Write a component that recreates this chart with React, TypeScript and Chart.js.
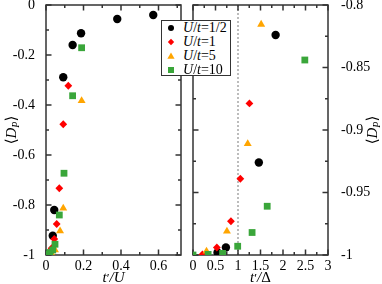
import React, { useEffect, useRef, useState } from 'react';
import { Chart, registerables } from 'chart.js';
Chart.register(...registerables);

const seriesNames = ['1/2', '1', '5', '10'];
const seriesColors = ['#000000', '#ff0000', '#ffa500', '#3aa63a'];
const seriesShapes = ['circle', 'rectRot', 'triangle', 'rect'];
const seriesRadii = [4.2, 3.9, 4.6, 4.8];

// Left panel: <D_P> versus t'/U
const leftHalfX = [0.572, 0.38, 0.187, 0.142, 0.092, 0.044, 0.036];
const leftHalfY = [-0.04, -0.056, -0.113, -0.16, -0.289, -0.82, -0.923];
const leftOneX = [0.119, 0.092, 0.071, 0.057, 0.044, 0.03, 0.015];
const leftOneY = [-0.323, -0.477, -0.733, -0.876, -0.936, -0.973, -0.995];
const leftFiveX = [0.19, 0.092, 0.075, 0.048, 0.03];
const leftFiveY = [-0.383, -0.813, -0.904, -0.98, -0.995];
const leftTenX = [0.19, 0.142, 0.096, 0.071, 0.048, 0.036, 0.021, 0.01, 0];
const leftTenY = [-0.171, -0.363, -0.673, -0.84, -0.957, -0.98, -0.99, -0.997, -1];

// Right panel: <D_P> versus t'/Delta
const rightHalfX = [1.836, 1.463, 0.731, 0.545];
const rightHalfY = [-0.824, -0.926, -0.994, -0.998];
const rightOneX = [1.254, 1.052, 0.843, 0.53, 0.209];
const rightOneY = [-0.8787, -0.939, -0.973, -0.994, -0.9995];
const rightFiveX = [1.515, 1.216, 0.754, 0.3];
const rightFiveY = [-0.8155, -0.911, -0.981, -0.997];
const rightTenX = [2.485, 1.649, 1.313, 0.993, 0.657, 0.336, 0];
const rightTenY = [-0.844, -0.961, -0.982, -0.993, -0.9987, -0.9995, -1];

// Ticks
const leftXTicks = [0, 0.2, 0.4, 0.6];
const leftXMinor = [0.1, 0.3, 0.5, 0.7];
const leftYTicks = [0, -0.2, -0.4, -0.6, -0.8, -1];
const leftYMinor = [-0.1, -0.3, -0.5, -0.7, -0.9];
const rightXTicks = [0, 0.5, 1, 1.5, 2, 2.5, 3];
const rightXMinor = [0.25, 0.75, 1.25, 1.75, 2.25, 2.75];
const rightYTicks = [-0.8, -0.85, -0.9, -0.95, -1];
const rightYMinor = [-0.825, -0.875, -0.925, -0.975];

const FONT = '"Liberation Serif", "DejaVu Serif", serif';
const AXIS_COLOR = '#333333';
const RIGHT_OFFSET = 184;

type PanelCfg = {
  xs: number[][];
  ys: number[][];
  xMin: number; xMax: number; yMin: number; yMax: number;
  xMajor: number[]; xMinor: number[]; yMajor: number[]; yMinor: number[];
  side: 'left' | 'right';
  padding: { left: number; top: number; right: number; bottom: number };
  yAxisWidth: number;
  xTitleVar: string;
  yTitleX: number;
  vline?: number;
};

function makePanel(canvas: HTMLCanvasElement, cfg: PanelCfg) {
  const datasets = cfg.xs.map((xArr, i) => ({
    label: 'U/t=' + seriesNames[i],
    data: xArr.map((x, j) => ({ x, y: cfg.ys[i][j] })),
    pointStyle: seriesShapes[i] as any,
    pointRadius: seriesRadii[i],
    pointBackgroundColor: seriesColors[i],
    pointBorderColor: seriesColors[i],
    pointBorderWidth: 0,
    showLine: false,
    order: 3 - i,
  }));

  const framePlugin = {
    id: 'frame' + cfg.side,
    beforeDatasetsDraw(chart: any) {
      const { ctx, chartArea: a, scales } = chart;
      const xs = scales.x, ys = scales.y;
      ctx.save();
      if (cfg.vline !== undefined) {
        const vx = xs.getPixelForValue(cfg.vline);
        ctx.strokeStyle = '#999999';
        ctx.lineWidth = 1.3;
        ctx.setLineDash([2, 2]);
        ctx.beginPath();
        ctx.moveTo(vx, a.top);
        ctx.lineTo(vx, a.bottom);
        ctx.stroke();
        ctx.setLineDash([]);
      }
      ctx.strokeStyle = AXIS_COLOR;
      ctx.lineWidth = 1.5;
      ctx.strokeRect(a.left, a.top, a.right - a.left, a.bottom - a.top);
      const tick = (vals: number[], len: number) => {
        ctx.beginPath();
        vals.forEach((v) => {
          const px = xs.getPixelForValue(v);
          ctx.moveTo(px, a.bottom); ctx.lineTo(px, a.bottom - len);
          ctx.moveTo(px, a.top); ctx.lineTo(px, a.top + len);
        });
        ctx.stroke();
      };
      const tickY = (vals: number[], len: number) => {
        ctx.beginPath();
        vals.forEach((v) => {
          const py = ys.getPixelForValue(v);
          ctx.moveTo(a.left, py); ctx.lineTo(a.left + len, py);
          ctx.moveTo(a.right, py); ctx.lineTo(a.right - len, py);
        });
        ctx.stroke();
      };
      tick(cfg.xMajor, 5.5); tick(cfg.xMinor, 3);
      tickY(cfg.yMajor, 5.5); tickY(cfg.yMinor, 3);
      ctx.restore();
    },
    afterDraw(chart: any) {
      const { ctx, chartArea: a } = chart;
      ctx.save();
      ctx.fillStyle = '#000';
      ctx.textAlign = 'left';
      ctx.textBaseline = 'alphabetic';
      const cx = (a.left + a.right) / 2;
      const parts = [
        { t: 't', f: 'italic 15px ' + FONT },
        { t: '′', f: '13px ' + FONT },
        { t: '/', f: 'italic 15px ' + FONT },
        { t: cfg.xTitleVar, f: (cfg.xTitleVar === 'U' ? 'italic ' : '') + '15px ' + FONT },
      ];
      let w = 0;
      parts.forEach((p) => { ctx.font = p.f; w += ctx.measureText(p.t).width; });
      let x = cx - w / 2;
      parts.forEach((p) => { ctx.font = p.f; ctx.fillText(p.t, x, 282); x += ctx.measureText(p.t).width; });
      ctx.translate(cfg.yTitleX, 130);
      ctx.rotate(-Math.PI / 2);
      const yp = [
        { t: '⟨', f: '15px ' + FONT, dy: 0 },
        { t: 'D', f: 'italic 15px ' + FONT, dy: 0 },
        { t: 'P', f: 'italic 10px ' + FONT, dy: 3 },
        { t: '⟩', f: '15px ' + FONT, dy: 0 },
      ];
      let yw = 0;
      yp.forEach((p) => { ctx.font = p.f; yw += ctx.measureText(p.t).width; });
      let yx = -yw / 2;
      yp.forEach((p) => { ctx.font = p.f; ctx.fillText(p.t, yx, 5 + p.dy); yx += ctx.measureText(p.t).width; });
      ctx.restore();
    },
  };

  const noPad = (s: any) => { s.paddingTop = 0; s.paddingBottom = 0; s.paddingLeft = 0; s.paddingRight = 0; };

  return new Chart(canvas, {
    type: 'scatter',
    data: { datasets },
    options: {
      animation: false,
      responsive: false,
      maintainAspectRatio: false,
      layout: { padding: cfg.padding },
      plugins: { legend: { display: false }, tooltip: { enabled: false } },
      scales: {
        x: {
          type: 'linear',
          min: cfg.xMin, max: cfg.xMax,
          grid: { display: false },
          border: { display: false },
          afterBuildTicks: (s: any) => { s.ticks = cfg.xMajor.map((v) => ({ value: v })); },
          afterFit: (s: any) => { s.height = 29; noPad(s); },
          ticks: { display: false },
        },
        y: {
          type: 'linear',
          position: cfg.side,
          min: cfg.yMin, max: cfg.yMax,
          grid: { display: false },
          border: { display: false },
          afterBuildTicks: (s: any) => { s.ticks = cfg.yMajor.map((v) => ({ value: v })); },
          afterFit: (s: any) => { s.width = cfg.yAxisWidth; noPad(s); },
          ticks: {
            padding: cfg.side === 'left' ? 3 : 5,
            color: '#000',
            autoSkip: false,
            font: { family: FONT, size: 14 },
            callback: (v: any) => String(v),
          },
        },
      },
    },
    plugins: [framePlugin],
  } as any);
}

function LegendMarker({ i }: { i: number }) {
  const c = seriesColors[i];
  let shape: any;
  if (i === 0) shape = <circle cx={5} cy={5} r={3} fill={c} />;
  else if (i === 1) shape = <polygon points="5,1.8 8.2,5 5,8.2 1.8,5" fill={c} />;
  else if (i === 2) shape = <polygon points="5,1.5 8.6,7.8 1.4,7.8" fill={c} />;
  else shape = <rect x={2} y={2} width={6} height={6} fill={c} />;
  return (
    <svg width={10} height={10} style={{ position: 'absolute', left: 4, top: 2 }}>
      {shape}
    </svg>
  );
}

export default function App() {
  const leftRef = useRef<HTMLCanvasElement>(null);
  const rightRef = useRef<HTMLCanvasElement>(null);
  const [xLabels, setXLabels] = useState<{ x: number; t: string }[]>([]);

  useEffect(() => {
    const left = makePanel(leftRef.current!, {
      xs: [leftHalfX, leftOneX, leftFiveX, leftTenX],
      ys: [leftHalfY, leftOneY, leftFiveY, leftTenY],
      xMin: 0, xMax: 0.72, yMin: -1, yMax: 0,
      xMajor: leftXTicks, xMinor: leftXMinor, yMajor: leftYTicks, yMinor: leftYMinor,
      side: 'left',
      padding: { left: 0, top: 5, right: 9, bottom: 0 },
      yAxisWidth: 46,
      xTitleVar: 'U',
      yTitleX: 11,
    });
    const right = makePanel(rightRef.current!, {
      xs: [rightHalfX, rightOneX, rightFiveX, rightTenX],
      ys: [rightHalfY, rightOneY, rightFiveY, rightTenY],
      xMin: 0, xMax: 3, yMin: -1, yMax: -0.8,
      xMajor: rightXTicks, xMinor: rightXMinor, yMajor: rightYTicks, yMinor: rightYMinor,
      side: 'right',
      padding: { left: 9, top: 5, right: 0, bottom: 0 },
      yAxisWidth: 54,
      xTitleVar: 'Δ',
      yTitleX: 372 - RIGHT_OFFSET,
      vline: 1,
    });
    const lx = (left as any).scales.x;
    const rx = (right as any).scales.x;
    setXLabels([
      ...leftXTicks.map((v) => ({ x: lx.getPixelForValue(v), t: String(v) })),
      ...rightXTicks.map((v) => ({ x: RIGHT_OFFSET + rx.getPixelForValue(v), t: String(v) })),
    ]);
    return () => { left.destroy(); right.destroy(); };
  }, []);

  return (
    <div style={{ position: 'absolute', left: 0, top: 0, width: 382, height: 284, background: '#fff', overflow: 'hidden' }}>
      <div style={{ position: 'absolute', left: RIGHT_OFFSET, top: 0, width: 198, height: 284, zIndex: 0 }}>
        <canvas ref={rightRef} width={198} height={284} style={{ width: 198, height: 284 }} />
      </div>
      <div style={{ position: 'absolute', left: 0, top: 0, width: 190, height: 284, zIndex: 1 }}>
        <canvas ref={leftRef} width={190} height={284} style={{ width: 190, height: 284 }} />
      </div>
      {xLabels.map((l, i) => (
        <span key={i} style={{ position: 'absolute', left: l.x, top: 259, transform: 'translateX(-50%)', fontSize: 14, lineHeight: '14px', fontFamily: FONT, color: '#000', whiteSpace: 'nowrap', zIndex: 3 }}>
          {l.t}
        </span>
      ))}
      <div style={{ position: 'absolute', left: 161, top: 20, width: 70, height: 56, boxSizing: 'border-box', border: '1px solid #333', background: '#fff', zIndex: 2 }}>
        {seriesNames.map((n, i) => (
          <div key={n} style={{ position: 'absolute', left: 0, top: i * 14 - 0.5, width: 68, height: 14 }}>
            <LegendMarker i={i} />
            <span style={{ position: 'absolute', left: 21, top: 0, lineHeight: '14px', fontSize: 14, fontFamily: FONT, whiteSpace: 'nowrap', color: '#000' }}>
              <i>U</i>/<i>t</i>={n}
            </span>
          </div>
        ))}
      </div>
    </div>
  );
}
